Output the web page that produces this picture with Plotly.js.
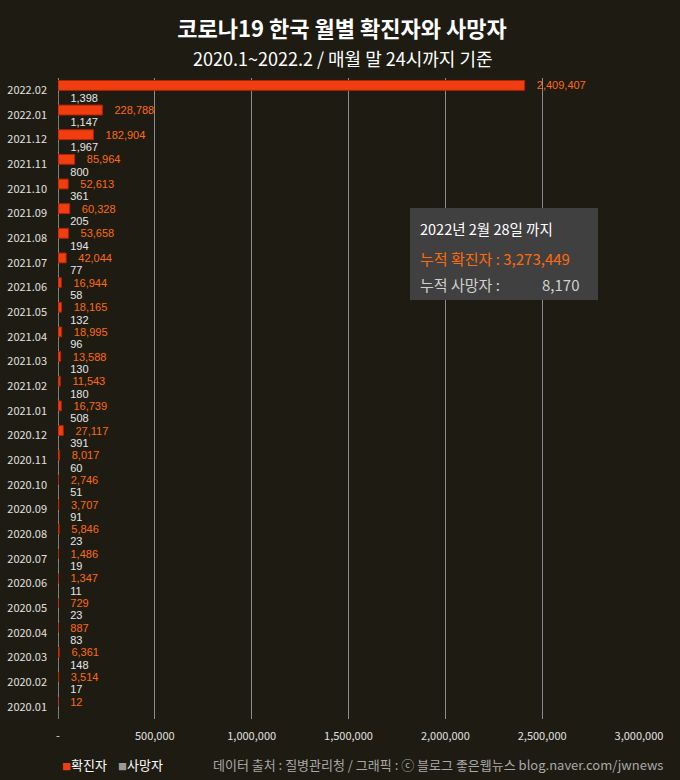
<!DOCTYPE html>
<html>
<head>
<meta charset="utf-8">
<script src="https://cdn.plot.ly/plotly-3.0.1.min.js"></script>
<style>html,body{margin:0;padding:0;background:#1e1c12;}</style>
</head>
<body>
<div id="chart" style="width:680px;height:780px;"></div>
<script>
const months = ['2020.01','2020.02','2020.03','2020.04','2020.05','2020.06','2020.07','2020.08','2020.09','2020.10','2020.11','2020.12',
  '2021.01','2021.02','2021.03','2021.04','2021.05','2021.06','2021.07','2021.08','2021.09','2021.10','2021.11','2021.12',
  '2022.01','2022.02'];
const confirmed = [12,3514,6361,887,729,1347,1486,5846,3707,2746,8017,27117,
  16739,11543,13588,18995,18165,16944,42044,53658,60328,52613,85964,182904,
  228788,2409407];
const deaths = [0,17,148,83,23,11,19,23,91,51,60,391,
  508,180,130,96,132,58,77,194,205,361,800,1967,
  1147,1398];
const tickVals = [0,500000,1000000,1500000,2000000,2500000,3000000];
const tickText = ['-','500,000','1,000,000','1,500,000','2,000,000','2,500,000','3,000,000'];
const totalConfirmed = '3,273,449';
const totalDeaths = '8,170';

const FONT = '"Noto Sans CJK KR", "Noto Sans", sans-serif';
const NUMFONT = '"Liberation Sans", Arial, sans-serif';
const fmt = v => v.toLocaleString('en-US');
const pad = '\u00a0\u00a0\u00a0';

const traces = [
  {
    type: 'bar', orientation: 'h', name: '확진자',
    y: months, x: confirmed,
    width: 0.4, offset: 0,
    marker: {color: '#f03e10', line: {color: '#b52300', width: 1}},
    text: confirmed.map(v => pad + fmt(v)),
    textposition: 'outside', constraintext: 'none', cliponaxis: false,
    textfont: {family: NUMFONT, size: 11, color: '#ff6a0a'},
    hoverinfo: 'skip'
  },
  {
    type: 'bar', orientation: 'h', name: '사망자',
    y: months, x: deaths,
    width: 0.4, offset: -0.5,
    marker: {color: '#8a8a8a', line: {color: '#666666', width: 0.5}},
    text: deaths.map(v => v > 0 ? pad + fmt(v) : ''),
    textposition: 'outside', constraintext: 'none', cliponaxis: false,
    textfont: {family: NUMFONT, size: 11, color: '#e6e6e6'},
    hoverinfo: 'skip'
  }
];

const layout = {
  width: 680, height: 780,
  paper_bgcolor: '#1e1c12', plot_bgcolor: '#1e1c12',
  margin: {l: 58, r: 41, t: 78, b: 61},
  font: {family: FONT, color: '#e0e0e0', size: 11},
  barmode: 'overlay',
  showlegend: false,
  title: {
    text: '<b>코로나19 한국 월별 확진자와 사망자</b>',
    x: (342-58)/581, xanchor: 'center', xref: 'paper',
    y: 1 - 29/780, yanchor: 'middle', yref: 'container',
    font: {family: FONT, size: 22, color: '#ffffff'}
  },
  xaxis: {
    range: [0, 3000000], fixedrange: true,
    tickvals: tickVals, ticktext: tickText,
    showgrid: true, gridcolor: '#8c8c8c', gridwidth: 1,
    zeroline: true, zerolinecolor: '#8c8c8c', zerolinewidth: 1,
    showline: false, ticks: '', ticklabelstandoff: 9,
    tickfont: {family: FONT, size: 11, color: '#e0e0e0'}
  },
  yaxis: {
    type: 'category', categoryorder: 'array', categoryarray: months,
    fixedrange: true, showgrid: false, zeroline: false, showline: false,
    ticks: '', ticklabelstandoff: 10,
    tickfont: {family: FONT, size: 11, color: '#e0e0e0'}
  },
  shapes: [
    {type: 'rect', xref: 'paper', yref: 'paper',
     x0: (410-58)/581, x1: (598-58)/581, y0: (719-300)/641, y1: (719-208)/641,
     fillcolor: '#404040', line: {width: 0}, layer: 'above'}
  ],
  annotations: [
    {text: '2020.1~2022.2 / 매월 말 24시까지 기준', xref: 'paper', yref: 'paper',
     x: (343-58)/581, y: 1 + (78-58)/641, xanchor: 'center', yanchor: 'middle', showarrow: false,
     font: {family: FONT, size: 18, color: '#ffffff'}},
    {text: '2022년 2월 28일 까지', xref: 'paper', yref: 'paper',
     x: (418-58)/581, y: (719-228)/641, xanchor: 'left', yanchor: 'middle', showarrow: false,
     font: {family: FONT, size: 14.5, color: '#ffffff'}},
    {text: '누적 확진자 : ' + totalConfirmed, xref: 'paper', yref: 'paper',
     x: (418-58)/581, y: (719-258)/641, xanchor: 'left', yanchor: 'middle', showarrow: false,
     font: {family: FONT, size: 15, color: '#ff6a0a'}},
    {text: '누적 사망자 :', xref: 'paper', yref: 'paper',
     x: (418-58)/581, y: (719-284)/641, xanchor: 'left', yanchor: 'middle', showarrow: false,
     font: {family: FONT, size: 15, color: '#d0d0d0'}},
    {text: totalDeaths, xref: 'paper', yref: 'paper',
     x: (581-58)/581, y: (719-284)/641, xanchor: 'right', yanchor: 'middle', showarrow: false,
     font: {family: FONT, size: 15, color: '#d0d0d0'}},
    {text: '<span style="color:#f03e10;font-size:9px">■</span>확진자', xref: 'paper', yref: 'paper',
     x: (60-58)/581, y: (719-764)/641, xanchor: 'left', yanchor: 'middle', showarrow: false,
     font: {family: FONT, size: 13, color: '#ffffff'}},
    {text: '<span style="color:#9a9a9a;font-size:9px">■</span>사망자', xref: 'paper', yref: 'paper',
     x: (116-58)/581, y: (719-764)/641, xanchor: 'left', yanchor: 'middle', showarrow: false,
     font: {family: FONT, size: 13, color: '#ffffff'}},
    {text: '데이터 출처 : 질병관리청 / 그래픽 : ⓒ 블로그 좋은웹뉴스 blog.naver.com/jwnews', xref: 'paper', yref: 'paper',
     x: (665-58)/581, y: (719-764)/641, xanchor: 'right', yanchor: 'middle', showarrow: false,
     font: {family: FONT, size: 13, color: '#a8a8a8'}}
  ]
};

Plotly.newPlot('chart', traces, layout, {displayModeBar: false, staticPlot: true});
</script>
</body>
</html>
